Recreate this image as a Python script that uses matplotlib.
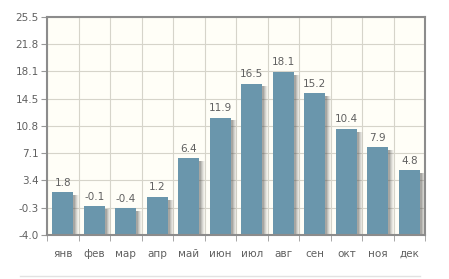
import numpy as np
from matplotlib import pyplot as plt
from matplotlib.lines import Line2D

months = ["янв", "фев", "мар", "апр", "май", "июн", "июл", "авг", "сен", "окт", "ноя", "дек"]
temps = [1.8, -0.1, -0.4, 1.2, 6.4, 11.9, 16.5, 18.1, 15.2, 10.4, 7.9, 4.8]
ytick_labels = ["-4.0", "-0.3", "3.4", "7.1", "10.8", "14.5", "18.1", "21.8", "25.5"]
y_min, y_max = -4.0, 25.5

plt.rcParams["font.family"] = "DejaVu Sans"

fig = plt.figure(figsize=(4.49, 2.79), dpi=100)
ax = fig.add_axes([47 / 449, 1 - 235 / 279, 378 / 449, 218 / 279])
ax.set_facecolor("#fffef7")

x = np.arange(len(months))
base = [y_min] * len(temps)
heights = [t - y_min for t in temps]

# soft shadow to the right of each bar (drawn in layers, fading outwards)
for k, a in enumerate([0.22, 0.16, 0.12, 0.08, 0.05]):
    off = 0.06 + 0.035 * k
    ax.bar(x + off, [h - 0.4 for h in heights], width=0.66, bottom=base,
           color="#505050", alpha=a, linewidth=0, zorder=2)

ax.bar(x, heights, width=0.66, bottom=base, color="#6a96ac", linewidth=0, zorder=3)

for xi, t in zip(x, temps):
    ax.text(xi, t + 0.6, f"{t:.1f}", ha="center", va="bottom",
            fontsize=7.5, color="#606060", zorder=4)

ax.set_xlim(-0.5, len(months) - 0.5)
ax.set_ylim(y_min, y_max)

yt = np.linspace(y_min, y_max, len(ytick_labels))
ax.set_yticks(yt)
ax.set_yticklabels(ytick_labels)

ax.set_xticks(x)
ax.set_xticklabels(months)
ax.set_xticks(np.arange(-0.5, len(months)), minor=True)

ax.tick_params(axis="x", which="major", length=0, labelsize=7.5,
               labelcolor="#606060", pad=10)
ax.tick_params(axis="x", which="minor", length=4, color="#999999", direction="out")
ax.tick_params(axis="y", length=4, color="#999999", labelsize=7.5,
               labelcolor="#606060", pad=2)

ax.grid(True, axis="y", color="#d6d4ca", linewidth=0.8, zorder=0)
ax.grid(True, axis="x", which="minor", color="#d6d4ca", linewidth=0.8, zorder=0)
ax.grid(False, axis="x", which="major")
ax.set_axisbelow(True)

for s in ax.spines.values():
    s.set_color("#8c8c8c")
    s.set_linewidth(1.5)
    s.set_zorder(5)

# faint bottom rule
fig.add_artist(Line2D([20 / 449, 420 / 449], [3 / 279, 3 / 279],
                      color="#e2e2e2", linewidth=1.0))

plt.savefig("out.png", dpi=100)
plt.close()
